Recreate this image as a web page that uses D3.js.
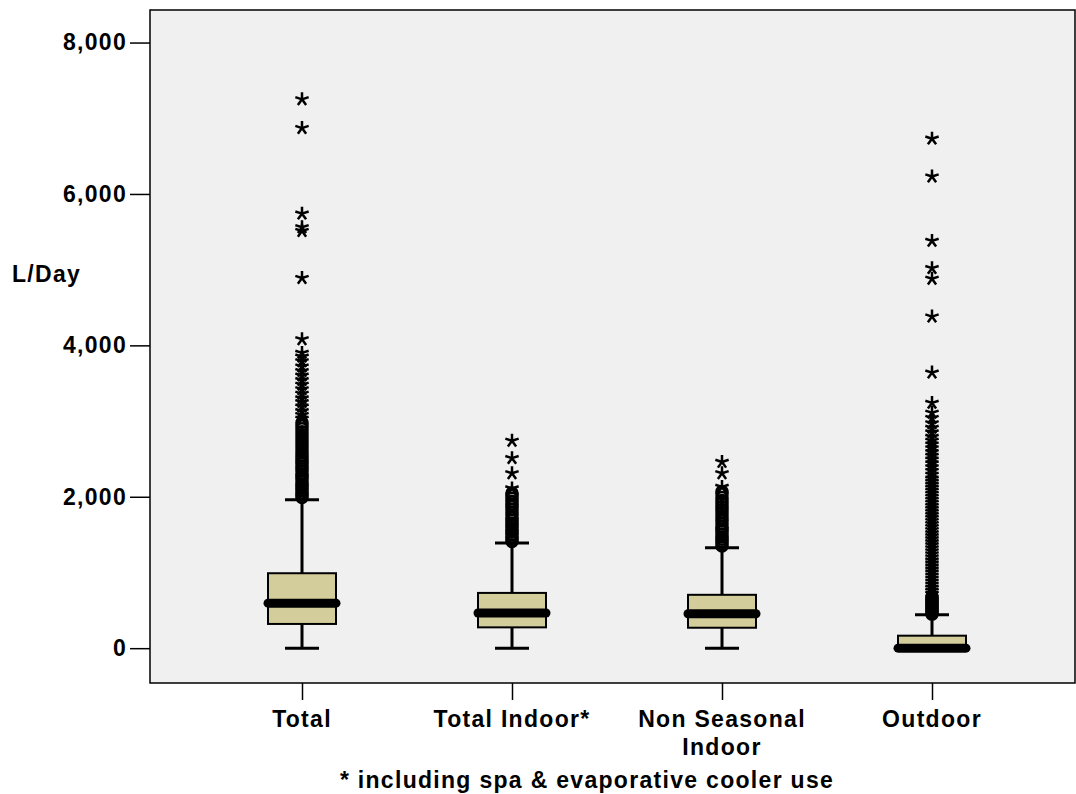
<!DOCTYPE html>
<html>
<head>
<meta charset="utf-8">
<script src="https://cdn.jsdelivr.net/npm/d3@7"></script>
<style>
    body { margin: 0; background: #ffffff; }
    text { font-family: "Liberation Sans", Arial, sans-serif; font-weight: bold; letter-spacing: 1.3px; }
</style>
</head>
<body>
<svg id="chart" width="1076" height="794"></svg>
<script>
//Categories and box statistics (L/Day)
var categories = ["Total", "Total Indoor*", "Non Seasonal Indoor", "Outdoor"];
var lowWhisker = [0, 0, 0, 0];
var q1 = [320, 275, 270, 0];
var median = [595, 465, 455, 0];
var q3 = [990, 730, 705, 165];
var highWhisker = [1960, 1390, 1325, 440];

//Outliers (circles) and extremes (stars) per category
var outliers = [
    [1990, 2020, 2050, 2080, 2110, 2140, 2170, 2200, 2240, 2270, 2300, 2340, 2370, 2400, 2440, 2470,
     2510, 2550, 2580, 2620, 2660, 2700, 2740, 2780, 2820, 2860, 2900, 2940, 2980],
    [1410, 1440, 1470, 1500, 1530, 1560, 1590, 1620, 1650, 1690, 1720, 1760, 1790, 1830, 1870, 1900,
     1940, 1980, 2020, 2050],
    [1350, 1380, 1410, 1440, 1470, 1500, 1540, 1570, 1600, 1640, 1680, 1710, 1750, 1790, 1830, 1870,
     1910, 1950, 1990, 2040, 2070],
    [450, 470, 490, 510, 530, 550, 570, 590, 610, 630, 650, 670, 690]
];
var extremes = [
    [3030, 3080, 3130, 3190, 3250, 3300, 3360, 3420, 3480, 3540, 3600, 3660, 3720, 3790, 3850, 3900,
     4080, 4890, 5510, 5560, 5740, 6870, 7250],
    [2110, 2310, 2510, 2740],
    [2130, 2310, 2460],
    [720, 760, 800, 840, 880, 920, 960, 1000, 1040, 1080, 1120, 1160, 1200, 1240, 1280, 1320, 1360,
     1400, 1440, 1480, 1520, 1560, 1600, 1640, 1680, 1720, 1760, 1800, 1840, 1880, 1920, 1960, 2000,
     2040, 2080, 2120, 2160, 2200, 2240, 2290, 2340, 2390, 2440, 2490, 2540, 2590, 2640, 2690, 2740,
     2790, 2850, 2910, 2970, 3040, 3110, 3240, 3640, 4380, 4880, 5020, 5380, 6230, 6730]
];
var yTicks = [0, 2000, 4000, 6000, 8000];

var plot = {left: 150, right: 1075, top: 10, bottom: 683};
var boxHalf = 34;
var capHalf = 17;

var svg = d3.select("#chart");

var x = d3.scalePoint()
    .domain(categories)
    .range([302, 932]);

var y = d3.scaleLinear()
    .domain([-460, 8430])
    .range([plot.bottom, plot.top]);

//Plot background and frame
svg.append("rect")
    .attr("x", plot.left)
    .attr("y", plot.top)
    .attr("width", plot.right - plot.left)
    .attr("height", plot.bottom - plot.top)
    .attr("fill", "#f0f0f0")
    .attr("stroke", "#000")
    .attr("stroke-width", 1.5);

//Axes
var yAxis = svg.append("g")
    .attr("transform", "translate(" + plot.left + ",0)")
    .call(d3.axisLeft(y).tickValues(yTicks).tickSize(20).tickPadding(3).tickFormat(d3.format(",")));
yAxis.select(".domain").remove();
yAxis.selectAll(".tick line").attr("stroke-width", 1.5);
yAxis.selectAll("text")
    .attr("font-size", "23px")
    .attr("font-family", "Liberation Sans, Arial, sans-serif")
    .attr("font-weight", "bold")
    .attr("fill", "#000");

var xAxis = svg.append("g")
    .attr("transform", "translate(0," + plot.bottom + ")")
    .call(d3.axisBottom(x).tickSize(17).tickFormat(""));
xAxis.select(".domain").remove();
xAxis.selectAll(".tick line").attr("stroke-width", 1.5);

//Category labels, long ones split over two lines
var labelLines = {"Non Seasonal Indoor": ["Non Seasonal", "Indoor"]};
categories.forEach(function (c) {
    var lines = labelLines[c] || [c];
    var label = svg.append("text")
        .attr("x", x(c))
        .attr("y", 727)
        .attr("text-anchor", "middle")
        .attr("font-size", "23px");
    lines.forEach(function (line, i) {
        label.append("tspan")
            .attr("x", x(c))
            .attr("dy", i === 0 ? 0 : 28)
            .text(line);
    });
});

svg.append("text")
    .attr("x", 12)
    .attr("y", 282)
    .attr("font-size", "23px")
    .text("L/Day");

svg.append("text")
    .attr("x", 587)
    .attr("y", 788)
    .attr("text-anchor", "middle")
    .attr("font-size", "23px")
    .text("* including spa & evaporative cooler use");

//Five-armed asterisk used by the extreme markers
var asterisk = {
    draw: function (context, size) {
        var r = Math.sqrt(size) / 2;
        for (var k = 0; k < 5; k++) {
            var a = -Math.PI / 2 + k * 2 * Math.PI / 5;
            context.moveTo(0, 0);
            context.lineTo(r * Math.cos(a), r * Math.sin(a));
        }
    }
};

var boxes = svg.selectAll(".box")
    .data(categories)
    .enter()
    .append("g")
    .attr("class", "box");

boxes.each(function (c, i) {
    var g = d3.select(this);
    var cx = x(c);

    //Whisker stems and caps
    g.append("line")
        .attr("x1", cx).attr("x2", cx)
        .attr("y1", y(lowWhisker[i])).attr("y2", y(q1[i]))
        .attr("stroke", "#000").attr("stroke-width", 3);
    g.append("line")
        .attr("x1", cx).attr("x2", cx)
        .attr("y1", y(q3[i])).attr("y2", y(highWhisker[i]))
        .attr("stroke", "#000").attr("stroke-width", 3);
    [lowWhisker[i], highWhisker[i]].forEach(function (v) {
        g.append("line")
            .attr("x1", cx - capHalf).attr("x2", cx + capHalf)
            .attr("y1", y(v)).attr("y2", y(v))
            .attr("stroke", "#000").attr("stroke-width", 3);
    });

    //Outlier circles
    g.selectAll(".out")
        .data(outliers[i])
        .enter()
        .append("circle")
        .attr("class", "out")
        .attr("cx", cx)
        .attr("cy", function (d) { return y(d); })
        .attr("r", 5.5)
        .attr("fill", "none")
        .attr("stroke", "#000")
        .attr("stroke-width", 2.5);

    //Extreme stars
    g.selectAll(".ext")
        .data(extremes[i])
        .enter()
        .append("path")
        .attr("class", "ext")
        .attr("transform", function (d) { return "translate(" + cx + "," + y(d) + ")"; })
        .attr("d", d3.symbol().type(asterisk).size(196))
        .attr("fill", "none")
        .attr("stroke", "#000")
        .attr("stroke-width", 2.5);

    //Box
    g.append("rect")
        .attr("x", cx - boxHalf)
        .attr("y", y(q3[i]))
        .attr("width", boxHalf * 2)
        .attr("height", y(q1[i]) - y(q3[i]))
        .attr("fill", "#d3cd9b")
        .attr("stroke", "#000")
        .attr("stroke-width", 2);

    //Median
    g.append("line")
        .attr("x1", cx - boxHalf).attr("x2", cx + boxHalf)
        .attr("y1", y(median[i])).attr("y2", y(median[i]))
        .attr("stroke", "#000")
        .attr("stroke-width", 9)
        .attr("stroke-linecap", "round");
});
</script>
</body>
</html>
